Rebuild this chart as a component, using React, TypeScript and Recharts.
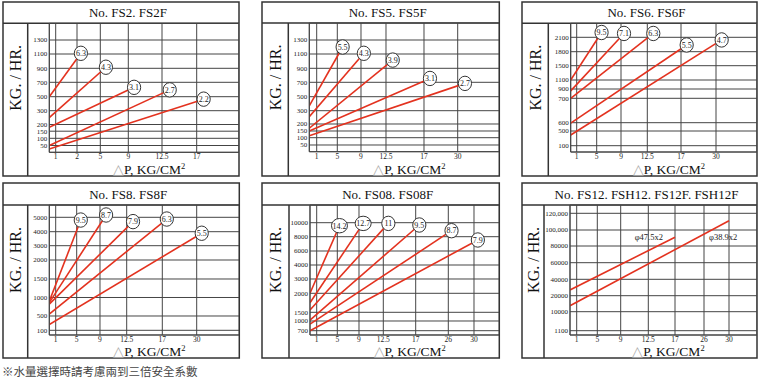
import React from "react";
import { LineChart, Line, XAxis, YAxis, CartesianGrid } from "recharts";

// No. FS2. FS2F
const fs2XTicks = [1, 2, 5, 9, 12.5, 17];
const fs2YTicks = [50, 100, 150, 200, 300, 500, 700, 900, 1100, 1300];
const fs2Labels = ["6.3", "4.3", "3.1", "2.7", "2.2"];
const fs2StartKg = [500, 250, 180, 50, 25];
const fs2EndP = [2.5, 5.8, 9.6, 13.5, 17.9];
const fs2EndKg = [1110, 915, 630, 595, 465];

// No. FS5. FS5F
const fs5XTicks = [1, 5, 9, 12.5, 17, 30];
const fs5YTicks = [50, 100, 150, 200, 300, 500, 700, 900, 1100, 1300];
const fs5Labels = ["5.5", "4.3", "3.9", "3.1", "2.7"];
const fs5StartKg = [370, 255, 170, 150, 115];
const fs5EndP = [5.9, 9.4, 13.3, 19.3, 32.8];
const fs5EndKg = [1200, 1110, 1015, 755, 685];

// No. FS6. FS6F
const fs6XTicks = [1, 5, 9, 12.5, 17, 30];
const fs6YTicks = [100, 500, 600, 700, 900, 1100, 1500, 1800, 2100];
const fs6Labels = ["9.5", "7.1", "6.3", "5.5", "4.7"];
const fs6StartKg = [1100, 860, 700, 595, 390];
const fs6EndP = [5.8, 9.4, 13.3, 19.1, 32.1];
const fs6EndKg = [2200, 2180, 2180, 1940, 2045];

// No. FS8. FS8F
const fs8XTicks = [1, 5, 9, 12.5, 17, 30];
const fs8YTicks = [100, 500, 1000, 1500, 2000, 3000, 4000, 5000];
const fs8Labels = ["9.5", "8.7", "7.9", "6.3", "5.5"];
const fs8StartKg = [900, 860, 820, 550, 260];
const fs8EndP = [5.7, 9.8, 13.3, 18.7, 31.9];
const fs8EndKg = [4810, 5160, 4700, 4880, 3890];

// No. FS08. FS08F
const fs08XTicks = [1, 5, 9, 12.5, 17, 26, 30];
const fs08YTicks = [700, 1000, 1500, 2000, 3000, 4000, 6000, 8000, 10000];
const fs08Labels = ["14.2", "12.7", "11", "9.5", "8.7", "7.9"];
const fs08StartKg = [2000, 1750, 1560, 1050, 905, 700];
const fs08EndP = [5.4, 9.6, 13.2, 18, 26.5, 30.6];
const fs08EndKg = [9570, 9900, 9900, 9670, 8860, 7540];

// No. FS12. FSH12. FS12F. FSH12F
const fs12XTicks = [1, 5, 9, 12.5, 17, 26, 30];
const fs12YTicks = [1100, 10000, 20000, 40000, 60000, 80000, 100000, 120000];
const fs12YTickText = ["1100", "10000", "20000", "40000", "60000", "80000", "100,000", "120,000"];
const fs12Labels = ["\u03c647.5x2", "\u03c638.9x2"];
const fs12StartKg = [27000, 13750];
const fs12EndP = [17, 30];
const fs12EndKg = [91000, 111000];

// the printed grids are not evenly ruled: distance (px) of each tick from the origin, origin first
const fs2XRule = [0, 6.4, 27.7, 51, 79, 112.7, 147.4];
const fs2YRule = [0, 6.8, 14, 21.1, 27.8, 41.6, 55.6, 70, 84, 98.3, 112.3];
const fs5XRule = [0, 7.4, 28, 51.7, 76.7, 114.7, 148.4];
const fs5YRule = [0, 6.7, 14, 20.7, 27.7, 41, 55, 69.4, 83.4, 97.7, 111.7];
const fs6XRule = [0, 6, 26, 50.3, 76.6, 110.3, 145.3];
const fs6YRule = [0, 6.3, 21, 29.3, 53.7, 63, 72, 86.3, 100.3, 114.7];
const fs8XRule = [0, 6.4, 27.4, 50.7, 77.4, 113, 147.4];
const fs8YRule = [0, 4.7, 19, 37.5, 56, 75, 89.3, 103.3, 117.7];
const fs08XRule = [0, 6.7, 27.3, 49, 73.3, 105.7, 138.3, 164];
const fs08YRule = [0, 4.3, 14, 22.7, 41.7, 56, 70, 84, 98.3, 112.3];
const fs12XRule = [0, 6.7, 27.3, 50.7, 78.3, 105, 134, 159];
const fs12YRule = [0, 4.3, 23.3, 39.3, 55.7, 72.3, 89, 105, 121.7];

const SERIF = '"Liberation Serif", "Times New Roman", serif';
const RED = "#e3321f";
const INK = "#333";

type Box = { x: number; y: number; w: number; h: number };
type PanelCfg = {
  title: string;
  box: Box;
  titleH: number;
  sideW: number;
  axisOff: number;
  plotBottom: number;
  xTicks: number[];
  xRule: number[];
  yTicks: number[];
  yRule: number[];
  yText?: string[];
  labels: string[];
  startKg: number[];
  endP: number[];
  endKg: number[];
  tagOffsets?: { dx: number; dy: number; anchor: "start" | "end" }[];
};

const panels: PanelCfg[] = [
  {
    title: "No. FS2. FS2F",
    box: { x: 3, y: 2, w: 236, h: 174 },
    titleH: 21.3, sideW: 24.7, axisOff: 46.3, plotBottom: 150.3,
    xTicks: fs2XTicks, xRule: fs2XRule, yTicks: fs2YTicks, yRule: fs2YRule,
    labels: fs2Labels, startKg: fs2StartKg, endP: fs2EndP, endKg: fs2EndKg,
  },
  {
    title: "No. FS5. FS5F",
    box: { x: 262, y: 2, w: 237.3, h: 174 },
    titleH: 21, sideW: 26.3, axisOff: 47.3, plotBottom: 149.7,
    xTicks: fs5XTicks, xRule: fs5XRule, yTicks: fs5YTicks, yRule: fs5YRule,
    labels: fs5Labels, startKg: fs5StartKg, endP: fs5EndP, endKg: fs5EndKg,
  },
  {
    title: "No. FS6. FS6F",
    box: { x: 522, y: 2, w: 235, h: 174 },
    titleH: 21.3, sideW: 26.3, axisOff: 48.7, plotBottom: 150,
    xTicks: fs6XTicks, xRule: fs6XRule, yTicks: fs6YTicks, yRule: fs6YRule,
    labels: fs6Labels, startKg: fs6StartKg, endP: fs6EndP, endKg: fs6EndKg,
  },
  {
    title: "No. FS8. FS8F",
    box: { x: 3, y: 183, w: 236.3, h: 175 },
    titleH: 22, sideW: 24.7, axisOff: 46.3, plotBottom: 152,
    xTicks: fs8XTicks, xRule: fs8XRule, yTicks: fs8YTicks, yRule: fs8YRule,
    labels: fs8Labels, startKg: fs8StartKg, endP: fs8EndP, endKg: fs8EndKg,
  },
  {
    title: "No. FS08. FS08F",
    box: { x: 262, y: 183, w: 237.3, h: 175 },
    titleH: 22, sideW: 27, axisOff: 48, plotBottom: 152,
    xTicks: fs08XTicks, xRule: fs08XRule, yTicks: fs08YTicks, yRule: fs08YRule,
    labels: fs08Labels, startKg: fs08StartKg, endP: fs08EndP, endKg: fs08EndKg,
  },
  {
    title: "No. FS12. FSH12. FS12F. FSH12F",
    box: { x: 522, y: 183, w: 235, h: 175 },
    titleH: 22, sideW: 22, axisOff: 48, plotBottom: 152,
    xTicks: fs12XTicks, xRule: fs12XRule, yTicks: fs12YTicks, yRule: fs12YRule,
    yText: fs12YTickText,
    labels: fs12Labels, startKg: fs12StartKg, endP: fs12EndP, endKg: fs12EndKg,
    tagOffsets: [
      { dx: -12, dy: 2.5, anchor: "end" },
      { dx: -20, dy: 19.5, anchor: "start" },
    ],
  },
];

// piecewise-linear ruling: value -> distance from origin
function rule(v: number, ticks: number[], pos: number[]) {
  const vals = [0, ...ticks];
  let i = 1;
  while (i < vals.length - 1 && v > vals[i]) i++;
  const v0 = vals[i - 1], v1 = vals[i];
  const p0 = pos[i - 1], p1 = pos[i];
  return p0 + ((v - v0) / (v1 - v0)) * (p1 - p0);
}

function endTag(label: string, off?: { dx: number; dy: number; anchor: "start" | "end" }) {
  return (props: any) => {
    const { cx, cy, index } = props;
    if (index !== 1) return <g key={`d${index}`} />;
    if (off) {
      return (
        <text key="tag" x={cx + off.dx} y={cy + off.dy} textAnchor={off.anchor}
          fontSize={8.5} fontFamily={SERIF} fill="#222">
          {label}
        </text>
      );
    }
    const rx = label.length > 3 ? 8 : 6.6;
    return (
      <g key="tag">
        <ellipse cx={cx} cy={cy} rx={rx} ry={7.2} fill="#fff" stroke={INK} strokeWidth={1} />
        <text x={cx} y={cy + 2.8} textAnchor="middle" fontSize={8} fontFamily={SERIF} fill="#222">
          {label}
        </text>
      </g>
    );
  };
}

function Frame({ cfg }: { cfg: PanelCfg }) {
  const { box, titleH, sideW, axisOff, plotBottom } = cfg;
  const plotW = box.w - axisOff;
  const midY = box.y + (titleH + plotBottom) / 2 - 10;
  const lx = box.x + sideW / 2;
  return (
    <g>
      <rect x={box.x} y={box.y} width={box.w} height={box.h} fill="none" stroke={INK} strokeWidth={1.5} />
      <line x1={box.x} x2={box.x + box.w} y1={box.y + titleH} y2={box.y + titleH} stroke={INK} strokeWidth={1.5} />
      <line x1={box.x + sideW} x2={box.x + sideW} y1={box.y + titleH} y2={box.y + box.h} stroke={INK} strokeWidth={1.5} />
      <text x={box.x + box.w / 2 + 7} y={box.y + titleH / 2 + 4.5} textAnchor="middle"
        fontSize={13} fontFamily={SERIF} fill="#111">
        {cfg.title}
      </text>
      <text x={lx} y={midY} transform={`rotate(-90 ${lx} ${midY})`} textAnchor="middle"
        dominantBaseline="central" fontSize={16} fontFamily={SERIF} fill="#111">
        KG. / HR.
      </text>
      <text x={box.x + axisOff + plotW / 2 + 5} y={box.y + box.h - 2} textAnchor="middle"
        fontSize={13.5} fontFamily={SERIF} fill="#111">
        <tspan fill="#aaa">{"\u25b3"}</tspan>
        <tspan>{"P,  KG/CM"}</tspan>
        <tspan fontSize={8.5} dy={-5}>2</tspan>
      </text>
    </g>
  );
}

function Panel({ cfg }: { cfg: PanelCfg }) {
  const { box, titleH, axisOff, plotBottom } = cfg;
  const plotW = box.w - axisOff;
  const plotH = plotBottom - titleH;
  const xTickPos = cfg.xTicks.map((t) => rule(t, cfg.xTicks, cfg.xRule));
  const yTickPos = cfg.yTicks.map((t) => rule(t, cfg.yTicks, cfg.yRule));
  const yText = cfg.yText ?? cfg.yTicks.map(String);
  const series = cfg.labels.map((lab, i) => ({
    lab,
    pts: [
      { x: 0, y: rule(cfg.startKg[i], cfg.yTicks, cfg.yRule) },
      { x: rule(cfg.endP[i], cfg.xTicks, cfg.xRule), y: rule(cfg.endKg[i], cfg.yTicks, cfg.yRule) },
    ],
  }));
  const xTick = { fontSize: 7.5, fontFamily: SERIF, fill: "#222" };
  const yTick = { fontSize: 7, fontFamily: SERIF, fill: "#222" };
  return (
    <div style={{ position: "absolute", left: box.x, top: box.y }}>
      <LineChart width={box.w} height={box.h}
        margin={{ top: titleH, right: 0, left: axisOff - 30, bottom: box.h - plotBottom - 20 }}>
        <CartesianGrid stroke="#444" strokeWidth={1} />
        <XAxis type="number" dataKey="x" domain={[0, plotW]} allowDataOverflow ticks={xTickPos}
          interval={0} height={20} tickLine={false} tickSize={0} tickMargin={1.5} tick={xTick}
          axisLine={{ stroke: "#444" }} tickFormatter={(_v: number, i: number) => String(cfg.xTicks[i])} />
        <YAxis type="number" domain={[0, plotH]} allowDataOverflow ticks={yTickPos} interval={0}
          width={30} tickLine={false} tickSize={0} tickMargin={2} tick={yTick}
          axisLine={{ stroke: "#444" }} tickFormatter={(_v: number, i: number) => yText[i]} />
        {series.map((s, i) => (
          <Line key={s.lab} data={s.pts} dataKey="y" type="linear" stroke={RED} strokeWidth={1.6}
            dot={endTag(s.lab, cfg.tagOffsets?.[i])} activeDot={false} isAnimationActive={false} />
        ))}
      </LineChart>
    </div>
  );
}

export default function App() {
  return (
    <div style={{ position: "absolute", left: 0, top: 0, width: 760, height: 378, background: "#fff", overflow: "hidden" }}>
      <svg width={760} height={378} style={{ position: "absolute", left: 0, top: 0 }}>
        {panels.map((p) => <Frame key={p.title} cfg={p} />)}
        <text x={2} y={375.5} fontSize={11.5} fill="#444"
          fontFamily='"Noto Sans CJK TC", "Noto Sans CJK SC", sans-serif'>
          ※水量選擇時請考慮兩到三倍安全系數
        </text>
      </svg>
      {panels.map((p) => <Panel key={p.title} cfg={p} />)}
    </div>
  );
}
